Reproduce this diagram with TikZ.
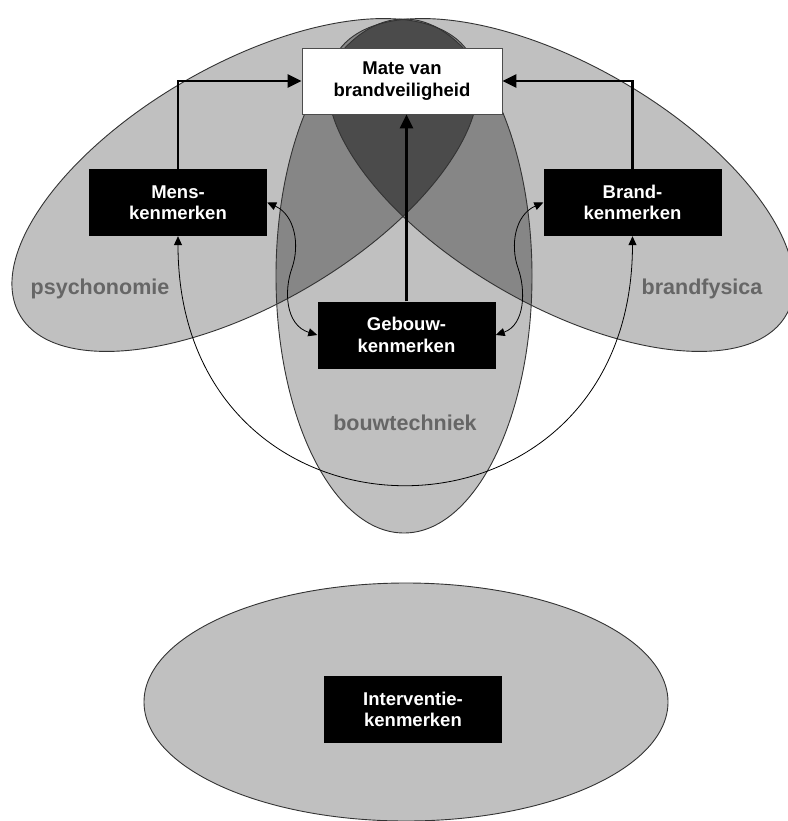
\documentclass[tikz,border=0pt]{standalone}
\usepackage{fontspec}
\setmainfont{Liberation Sans}
\usetikzlibrary{arrows.meta}

\definecolor{lichtgrijs}{HTML}{C0C0C0}
\definecolor{middengrijs}{HTML}{868686}
\definecolor{donkergrijs}{HTML}{4B4B4B}
\definecolor{tekstgrijs}{HTML}{666666}

\newcommand{\psyvorm}{[rotate around={30:(245,185)}] (245,185) ellipse [x radius=260pt, y radius=120pt]}
\newcommand{\fysvorm}{[rotate around={-30:(561,185)}] (561,185) ellipse [x radius=260pt, y radius=120pt]}
\newcommand{\bouwvorm}{(404,276) ellipse [x radius=128pt, y radius=257pt]}

\tikzset{
  kenmerk/.style={fill=black, text=white, font=\bfseries\fontsize{18.5}{21.5}\selectfont,
    align=center, minimum width=178pt, minimum height=67pt, inner sep=0pt},
  uitkomst/.style={kenmerk, fill=white, text=black, draw=black!70, line width=0.8pt,
    minimum width=200pt, minimum height=66pt},
  vakgebied/.style={text=tekstgrijs, font=\bfseries\fontsize{21.5}{24}\selectfont},
  rand/.style={draw=black!80, line width=0.9pt},
  dik/.style={line width=2.7pt, -{Triangle[length=14pt,width=13pt]}},
  dun/.style={line width=0.8pt, {Triangle[length=9pt,width=8pt]}-{Triangle[length=9pt,width=8pt]}}
}

\begin{document}
\begin{tikzpicture}[x=1pt, y=-1pt]
\useasboundingbox (0,0) rectangle (787,821);

\fill[lichtgrijs] \psyvorm;
\fill[lichtgrijs] \fysvorm;
\fill[lichtgrijs] \bouwvorm;
\begin{scope}
\clip \psyvorm;
\fill[middengrijs] \bouwvorm;
\fill[middengrijs] \fysvorm;
\end{scope}
\begin{scope}
\clip \fysvorm;
\fill[middengrijs] \bouwvorm;
\end{scope}
\begin{scope}
\clip \psyvorm;
\clip \fysvorm;
\fill[donkergrijs] \bouwvorm;
\end{scope}
\draw[rand] \psyvorm;
\draw[rand] \fysvorm;
\draw[rand] \bouwvorm;

\filldraw[rand, fill=lichtgrijs] (406,702) ellipse [x radius=262pt, y radius=119pt];

\node[vakgebied] (psy) at (100,289) {psychonomie};
\node[vakgebied] (fys) at (702,289) {brandfysica};
\node[vakgebied] (bouw) at (405,423) {bouwtechniek};

\node[uitkomst] (mate) at (402,81) {Mate van\\brandveiligheid};
\node[kenmerk] (mens) at (178,202.5) {Mens-\\kenmerken};
\node[kenmerk] (brand) at (632.5,202.5) {Brand-\\kenmerken};
\node[kenmerk] (gebouw) at (406.5,335) {Gebouw-\\kenmerken};
\node[kenmerk] (interventie) at (413,709.5) {Interventie-\\kenmerken};

\draw[dik] (mens.north) |- (mate.west);
\draw[dik] (brand.north) |- (mate.east);
\draw[dik] (gebouw.north) -- (gebouw.north |- mate.south);

\draw[dun] (mens.east) .. controls (295,215) and (300,245) .. (292,268) .. controls (284,290) and (285,325) .. (gebouw.west);
\draw[dun] (brand.west) .. controls (515,215) and (510,245) .. (518,268) .. controls (526,290) and (525,325) .. (gebouw.east);
\draw[dun] (mens.south) .. controls (178,566) and (632,566) .. (brand.south);
\end{tikzpicture}
\end{document}
